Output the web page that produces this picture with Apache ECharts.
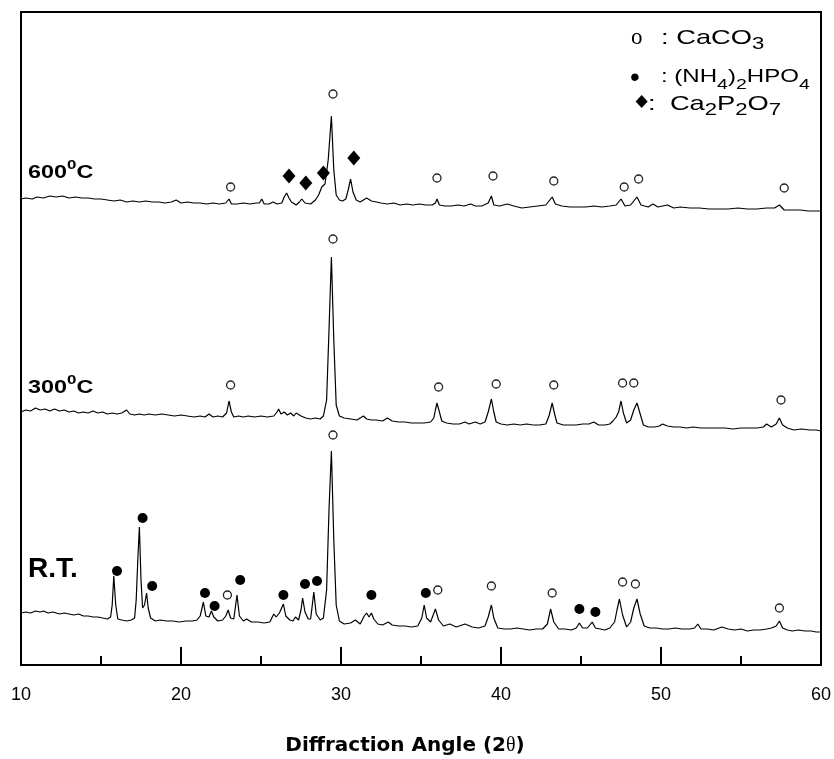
<!DOCTYPE html>
<html><head><meta charset="utf-8">
<script src="https://cdn.jsdelivr.net/npm/echarts@6/dist/echarts.min.js"></script>
<style>html,body{margin:0;padding:0;background:#fff}#c{width:834px;height:759px}</style>
</head><body><div id="c"></div>
<script>
// X-ray diffraction patterns: [2θ (deg), intensity (a.u., curves stacked with offsets)]
const xTicks = [10, 20, 30, 40, 50, 60];

const patternRT = [
[10.0,52],[10.3,53],[10.6,52],[10.9,54],[11.2,53],[11.4,54],[11.7,52],[12.0,53],[12.4,51],[12.7,52],
[13.0,51],[13.3,50],[13.6,51],[13.9,49],[14.2,49],[14.5,48],[14.8,48],[15.1,47],[15.4,46],[15.6,48],
[15.7,60],[15.8,89],[15.92,60],[16.05,46],[16.3,45],[16.6,44],[16.9,45],[17.1,47],[17.2,65],[17.3,105],
[17.4,138],[17.5,85],[17.6,57],[17.72,60],[17.85,72],[17.95,57],[18.1,47],[18.4,44],[18.7,45],[19.1,44],
[19.5,44],[19.9,43],[20.3,44],[20.7,44],[21.0,45],[21.2,49],[21.4,63],[21.55,49],[21.75,48],[21.9,54],
[22.05,48],[22.3,44],[22.6,45],[22.8,49],[22.95,55],[23.1,47],[23.3,46],[23.5,70],[23.65,49],[23.9,44],
[24.1,46],[24.4,43],[24.8,43],[25.2,42],[25.55,43],[25.8,51],[25.95,48],[26.15,52],[26.4,61],[26.55,49],
[26.8,45],[27.0,44],[27.15,48],[27.35,45],[27.5,55],[27.6,67],[27.75,53],[27.95,46],[28.1,46],[28.2,59],
[28.3,73],[28.45,51],[28.7,45],[28.9,47],[29.1,75],[29.25,155],[29.4,214],[29.55,125],[29.7,60],[29.9,44],
[30.2,41],[30.6,42],[30.9,45],[31.2,41],[31.45,49],[31.6,52],[31.75,48],[31.9,52],[32.05,46],[32.3,41],
[32.6,40],[32.95,43],[33.2,40],[33.6,39],[34.0,39],[34.4,38],[34.8,39],[35.05,47],[35.2,60],[35.35,47],
[35.6,43],[35.9,56],[36.1,45],[36.4,39],[36.8,41],[37.2,38],[37.75,41],[38.2,38],[38.6,37],[39.0,39],
[39.2,48],[39.4,60],[39.55,47],[39.8,37],[40.2,36],[40.6,36],[41.0,37],[41.4,36],[41.8,35],[42.2,36],
[42.6,36],[42.9,41],[43.1,56],[43.3,43],[43.6,36],[44.0,36],[44.4,35],[44.7,37],[44.9,42],[45.1,37],
[45.4,37],[45.7,43],[45.9,37],[46.2,36],[46.5,35],[46.8,37],[47.1,43],[47.25,55],[47.4,66],[47.6,50],
[47.85,38],[48.1,43],[48.3,57],[48.5,66],[48.7,51],[48.95,39],[49.3,37],[49.7,37],[50.1,36],[50.5,36],
[50.9,37],[51.3,36],[51.8,36],[52.1,37],[52.3,41],[52.5,36],[52.9,36],[53.3,35],[53.8,38],[54.2,36],
[54.6,35],[55.0,36],[55.4,34],[55.8,35],[56.2,35],[56.6,36],[56.9,37],[57.2,39],[57.4,44],[57.6,37],
[57.9,35],[58.2,34],[58.6,35],[59.0,34],[59.4,34],[59.7,33],[60.0,33]
];

const pattern300 = [
[10.0,253],[10.3,255],[10.6,254],[10.9,257],[11.2,255],[11.5,256],[11.8,254],[12.1,256],[12.4,254],[12.7,255],
[13.0,253],[13.3,254],[13.6,252],[13.9,253],[14.2,252],[14.5,254],[14.8,252],[15.1,253],[15.4,251],[15.7,252],
[16.0,251],[16.3,252],[16.6,255],[16.8,251],[17.1,250],[17.4,251],[17.7,250],[18.0,251],[18.4,250],[18.8,251],
[19.2,250],[19.6,249],[20.0,250],[20.4,249],[20.8,248],[21.2,249],[21.5,248],[21.75,251],[22.0,248],[22.3,249],
[22.6,248],[22.85,252],[23.0,264],[23.15,253],[23.3,248],[23.6,249],[23.9,248],[24.2,249],[24.6,248],[25.0,249],
[25.4,248],[25.8,249],[26.0,253],[26.1,256],[26.25,251],[26.45,253],[26.65,250],[26.85,252],[27.05,249],[27.2,252],
[27.5,249],[27.8,247],[28.1,246],[28.4,247],[28.7,246],[28.9,249],[29.1,265],[29.25,335],[29.4,408],[29.55,325],
[29.7,260],[29.9,249],[30.2,247],[30.6,246],[31.0,245],[31.4,249],[31.6,246],[31.9,245],[32.2,245],[32.6,244],
[32.9,247],[33.2,244],[33.6,243],[34.0,243],[34.4,242],[34.8,242],[35.2,242],[35.6,243],[35.8,247],[35.9,255],
[36.0,262],[36.15,253],[36.3,244],[36.6,242],[37.0,241],[37.4,241],[37.75,243],[38.0,241],[38.4,243],[38.7,241],
[39.0,243],[39.2,253],[39.4,266],[39.55,253],[39.7,243],[40.0,241],[40.4,240],[40.8,241],[41.2,240],[41.6,241],
[42.0,240],[42.4,240],[42.8,241],[43.0,249],[43.2,262],[43.35,251],[43.5,242],[43.9,240],[44.3,240],[44.7,240],
[45.1,241],[45.5,241],[45.8,243],[46.1,240],[46.5,240],[46.8,241],[47.0,244],[47.2,248],[47.35,253],[47.5,264],
[47.65,252],[47.85,242],[48.1,245],[48.3,255],[48.5,262],[48.7,251],[48.9,240],[49.2,238],[49.6,238],[49.9,239],
[50.1,241],[50.4,239],[50.8,238],[51.2,238],[51.6,237],[52.0,238],[52.5,237],[53.0,237],[53.5,237],[54.0,237],
[54.5,236],[55.0,237],[55.5,237],[56.0,237],[56.4,238],[56.6,241],[56.9,238],[57.2,241],[57.4,247],[57.6,240],
[57.9,237],[58.3,235],[58.8,236],[59.3,235],[59.7,235],[60.0,234]
];

const pattern600 = [
[10.0,466],[10.3,467],[10.7,466],[11.0,468],[11.4,467],[11.8,469],[12.2,468],[12.6,469],[13.0,467],[13.4,468],
[13.8,467],[14.2,467],[14.6,466],[15.0,466],[15.4,465],[15.8,464],[16.2,465],[16.6,463],[17.0,464],[17.4,463],
[17.8,464],[18.2,463],[18.6,463],[19.0,462],[19.4,463],[19.7,465],[20.0,462],[20.4,463],[20.8,462],[21.2,462],
[21.6,461],[22.0,462],[22.4,461],[22.8,462],[23.0,466],[23.15,461],[23.5,461],[23.9,462],[24.3,461],[24.7,462],
[24.9,462],[25.05,466],[25.2,461],[25.5,461],[25.75,463],[26.0,461],[26.3,462],[26.45,468],[26.6,472],[26.75,467],
[26.9,463],[27.2,460],[27.4,463],[27.55,466],[27.75,462],[28.1,461],[28.4,465],[28.6,470],[28.8,478],[29.0,481],
[29.2,505],[29.4,549],[29.55,495],[29.7,470],[29.9,465],[30.1,464],[30.3,466],[30.45,475],[30.6,486],[30.75,473],
[30.95,465],[31.2,463],[31.6,467],[31.9,464],[32.2,463],[32.5,462],[32.9,461],[33.3,462],[33.7,460],[34.1,461],
[34.5,460],[34.9,461],[35.3,460],[35.7,460],[35.9,462],[36.0,466],[36.15,460],[36.5,459],[36.9,459],[37.3,460],
[37.7,459],[38.1,461],[38.4,459],[38.8,459],[39.2,462],[39.4,469],[39.55,460],[39.9,459],[40.4,461],[40.8,459],
[41.3,457],[41.8,458],[42.3,459],[42.8,460],[43.0,464],[43.2,468],[43.4,461],[43.8,459],[44.3,458],[44.8,458],
[45.3,458],[45.8,459],[46.3,458],[46.8,459],[47.2,460],[47.5,466],[47.75,459],[48.1,460],[48.5,468],[48.75,460],
[49.2,458],[49.5,461],[49.8,458],[50.4,460],[50.8,457],[51.2,458],[51.8,457],[52.4,457],[53.0,456],[53.6,456],
[54.2,456],[54.8,457],[55.4,456],[56.0,456],[56.6,457],[57.1,457],[57.4,460],[57.7,455],[58.2,455],[58.7,455],
[59.2,454],[59.6,454],[60.0,454]
];

// Phase markers [2θ, position]
const caco3Marks = [
[23.1,478],[29.5,571],[36.0,487],[39.5,489],[43.3,484],[47.7,478],[48.6,486],[57.7,477],
[23.1,280],[29.5,426],[36.1,278],[39.7,281],[43.3,280],[47.6,282],[48.3,282],[57.5,265],
[22.9,70],[29.5,230],[36.05,75],[39.4,79],[43.2,72],[47.6,83],[48.4,81],[57.4,57]
];
const nh4Marks = [
[16.0,94],[17.6,147],[18.2,79],[21.5,72],[22.1,59],[23.7,85],[26.4,70],[27.75,81],[28.5,84],[31.9,70],[35.3,72],[44.9,56],[45.9,53]
];
const ca2p2o7Marks = [[26.75,489],[27.8,482],[28.9,492],[30.8,507]];

const chart = echarts.init(document.getElementById('c'), null, {renderer: 'canvas'});
const lineStyle = {color: '#000', width: 1.2};
const SANS = 'Liberation Sans';

function curve(name, data) {
  return {type: 'line', name: name, data: data, symbol: 'none', lineStyle: lineStyle, z: 2, silent: true};
}
function txt(x, y, text, style, scaleX) {
  return {type: 'text', x: x, y: y, scaleX: scaleX || 1, style: Object.assign({text: text, align: 'left', verticalAlign: 'middle', fill: '#000'}, style)};
}

chart.setOption({
  animation: false,
  backgroundColor: '#fff',
  grid: {left: 21, right: 13, top: 12, bottom: 94, show: true, borderColor: '#000', borderWidth: 2, backgroundColor: 'transparent', outerBoundsMode: 'none', containLabel: false},
  xAxis: {
    type: 'value', min: xTicks[0], max: xTicks[xTicks.length - 1], interval: 10,
    axisLine: {show: true, onZero: false, lineStyle: {color: '#000', width: 2}},
    axisTick: {show: true, inside: true, length: 18, lineStyle: {color: '#000', width: 2}},
    minorTick: {show: true, splitNumber: 2, length: 9, lineStyle: {color: '#000', width: 2}},
    splitLine: {show: false}, minorSplitLine: {show: false},
    axisLabel: {show: true, margin: 21, fontSize: 18, fontFamily: SANS, color: '#000'},
    name: 'Diffraction Angle (2{t|θ})', nameLocation: 'middle', nameGap: 71,
    nameTextStyle: {fontSize: 20, fontWeight: 'bold', fontFamily: 'DejaVu Sans', color: '#000', padding: [0, 32, 0, 0],
      rich: {t: {fontSize: 20, fontWeight: 'normal', fontFamily: 'Liberation Serif', color: '#000'}}}
  },
  yAxis: {
    type: 'value', min: 0, max: 653,
    axisLine: {show: false}, axisTick: {show: false}, axisLabel: {show: false}, splitLine: {show: false}
  },
  series: [
    curve('R.T.', patternRT),
    curve('300°C', pattern300),
    curve('600°C', pattern600),
    {type: 'scatter', name: 'CaCO3', data: caco3Marks, symbol: 'circle', symbolSize: 8, z: 3,
     itemStyle: {color: '#fff', borderColor: '#222', borderWidth: 1.3, opacity: 1}},
    {type: 'scatter', name: '(NH4)2HPO4', data: nh4Marks, symbol: 'circle', symbolSize: 10, z: 3,
     itemStyle: {color: '#000', opacity: 1}},
    {type: 'scatter', name: 'Ca2P2O7', data: ca2p2o7Marks, symbol: 'diamond', symbolSize: [13, 15], z: 3,
     itemStyle: {color: '#000', opacity: 1}}
  ],
  graphic: [
    txt(28, 173, '{m|600}{p|0}{m|C}', {
      rich: {m: {fontSize: 18, fontWeight: 'bold', fontFamily: SANS, fill: '#000'},
             p: {fontSize: 13, fontWeight: 'bold', fontFamily: SANS, fill: '#000', padding: [0, 0, 16, 0]}}}, 1.3),
    txt(28, 388, '{m|300}{p|0}{m|C}', {
      rich: {m: {fontSize: 18, fontWeight: 'bold', fontFamily: SANS, fill: '#000'},
             p: {fontSize: 13, fontWeight: 'bold', fontFamily: SANS, fill: '#000', padding: [0, 0, 16, 0]}}}, 1.3),
    txt(28, 569, 'R.T.', {fontSize: 28, fontWeight: 'bold', fontFamily: SANS}),
    // legend
    txt(631, 38, 'o', {fontSize: 23, fontFamily: 'Liberation Serif'}),
    txt(661, 38, '{m|: CaCO}{s|3}', {
      rich: {m: {fontSize: 21, fontFamily: SANS, fill: '#000'},
             s: {fontSize: 17, fontFamily: SANS, fill: '#000', padding: [12, 0, 0, 0]}}}, 1.3),
    txt(630, 78, '•', {fontSize: 28, fontFamily: SANS}),
    txt(661, 77, '{m|: (NH}{s|4}{m|)}{s|2}{m|HPO}{s|4}', {
      rich: {m: {fontSize: 18.5, fontFamily: SANS, fill: '#000'},
             s: {fontSize: 15, fontFamily: SANS, fill: '#000', padding: [16, 0, 0, 0]}}}, 1.3),
    txt(632, 103, '♦', {fontSize: 18, fontFamily: 'DejaVu Sans'}, 1.2),
    txt(648, 104, '{c|:}{m|Ca}{s|2}{m|P}{s|2}{m|O}{s|7}', {
      rich: {c: {fontSize: 21, fontFamily: SANS, fill: '#000', padding: [0, 11, 0, 0]},
             m: {fontSize: 21, fontFamily: SANS, fill: '#000'},
             s: {fontSize: 17, fontFamily: SANS, fill: '#000', padding: [12, 0, 0, 0]}}}, 1.3)
  ]
});
</script>
</body></html>
